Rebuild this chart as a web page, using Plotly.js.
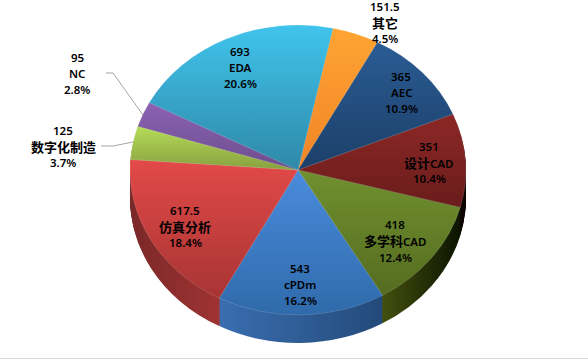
<!DOCTYPE html>
<html><head><meta charset="utf-8">
<script src="https://cdn.plot.ly/plotly-3.0.1.min.js"></script>
<style>html,body{margin:0;padding:0;background:#fff;overflow:hidden}#c{width:588px;height:360px}</style>
</head><body><div id="c"></div>
<script>
var categories = ['其它','AEC','设计CAD','多学科CAD','cPDm','仿真分析','数字化制造','NC','EDA'];
var values = [151.5,365,351,418,543,617.5,125,95,693];
var percents = ['4.5%','10.9%','10.4%','12.4%','16.2%','18.4%','3.7%','2.8%','20.6%'];
var valueLabels = ['151.5','365','351','418','543','617.5','125','95','693'];
var topLight = ['#ffa433','#2a5c94','#8c2826','#70902f','#4a8bdc','#e24a48','#b4dc58','#8c62b4','#40c4ec'];
var topDark  = ['#f08426','#1c3f68','#6a1c1c','#556c20','#2f6aaa','#a83434','#88a040','#6c4e8c','#2f88a8'];
var wallLight= ['#c87020','#1c3f68','#3a0c0c','#80901f','#3a6eb0','#7a2828','#88a040','#6c4e8c','#2f88a8'];
var wallDark = ['#c87020','#0c1c30','#0c0400','#0c1400','#234a7a','#c03c3c','#88a040','#6c4e8c','#2f88a8'];
var labelX = [385,401,429,395,300,185,63,77,240];
var labelY = [22,93,163,241,284,226,146,74,67];

var W=588,H=360,cx=298,cy=170,rx=168,ry=145,depth=28;
var squash=ry/rx;
var rotation=12;
var traces=[];
var dom={x:[(cx-rx)/W,(cx+rx)/W],y:[(H-180-rx)/H,(H-180+rx)/H]};
for(var d=depth;d>=0;d--){
  traces.push({type:'pie',values:values,labels:categories,sort:false,direction:'clockwise',rotation:rotation,
    domain:dom,textinfo:'none',hoverinfo:'skip',showlegend:false,
    marker:{colors:(d?wallDark:topDark),line:{width:d?0:0.5,color:'rgba(255,255,255,0.3)'}}});
}
function rich(s){
  return s.replace(/[\u4e00-\u9fff]+/g,function(m){return '<b><span style="font-size:13px;font-family:Noto Sans CJK SC">'+m+'</span></b>';});
}
var annotations=[];
categories.forEach(function(c,i){
  [valueLabels[i],c,percents[i]].forEach(function(t,j){
    annotations.push({xref:'paper',yref:'paper',x:labelX[i]/W,y:1-labelY[i]/H,yshift:-(j-1)*16,
      text:rich(t),showarrow:false,xanchor:'center',yanchor:'middle',
      font:{family:'Noto Sans',size:11.5,weight:600,color:'#000'}});
  });
});
function px(x){return x/W;} function py(y){return 1-y/H;}
var shapes=[
  {type:'line',xref:'paper',yref:'paper',x0:px(106),y0:py(73),x1:px(113),y1:py(73),line:{color:'#a6a6a6',width:1}},
  {type:'line',xref:'paper',yref:'paper',x0:px(113),y0:py(73),x1:px(143),y1:py(115),line:{color:'#a6a6a6',width:1}},
  {type:'line',xref:'paper',yref:'paper',x0:px(101),y0:py(146),x1:px(113),y1:py(146),line:{color:'#a6a6a6',width:1}},
  {type:'line',xref:'paper',yref:'paper',x0:px(113),y0:py(146),x1:px(133),y1:py(142),line:{color:'#a6a6a6',width:1}},
  {type:'line',xref:'paper',yref:'paper',x0:0,y0:py(358.5),x1:1,y1:py(358.5),line:{color:'#d9d9d9',width:1}}
];
Plotly.newPlot('c',traces,{width:W,height:H,margin:{l:0,r:0,t:0,b:0},paper_bgcolor:'#fff',showlegend:false,
  annotations:annotations,shapes:shapes},{staticPlot:true,displayModeBar:false}).then(function(gd){
  var svg=gd.querySelector('svg.main-svg');
  var NS='http://www.w3.org/2000/svg';
  var defs=svg.querySelector('defs');
  function grad(id,c1,c2,horizontal){
    var g=document.createElementNS(NS,'linearGradient');
    g.setAttribute('id',id);g.setAttribute('x1',0);g.setAttribute('y1',0);
    g.setAttribute('x2',horizontal?1:0);g.setAttribute('y2',horizontal?0:1);
    [[0,c1],[1,c2]].forEach(function(s){var e=document.createElementNS(NS,'stop');
      e.setAttribute('offset',s[0]);e.setAttribute('stop-color',s[1]);g.appendChild(e);});
    defs.appendChild(g);
  }
  categories.forEach(function(c,i){
    grad('top'+i,topLight[i],topDark[i],false);
    grad('wall'+i,wallLight[i],wallDark[i],true);
  });
  var layer=gd.querySelector('.pielayer');
  layer.setAttribute('transform','translate(0,'+(cy-180*squash)+') scale(1,'+squash+')');
  var tr=layer.querySelectorAll('.trace');
  tr.forEach(function(t,k){
    var d=depth-k;
    t.setAttribute('transform','translate(0,'+(d/squash)+')');
    t.querySelectorAll('.slice path.surface').forEach(function(p,i){
      p.style.fill='url(#'+(d?'wall':'top')+i+')';
    });
  });
});
</script></body></html>
